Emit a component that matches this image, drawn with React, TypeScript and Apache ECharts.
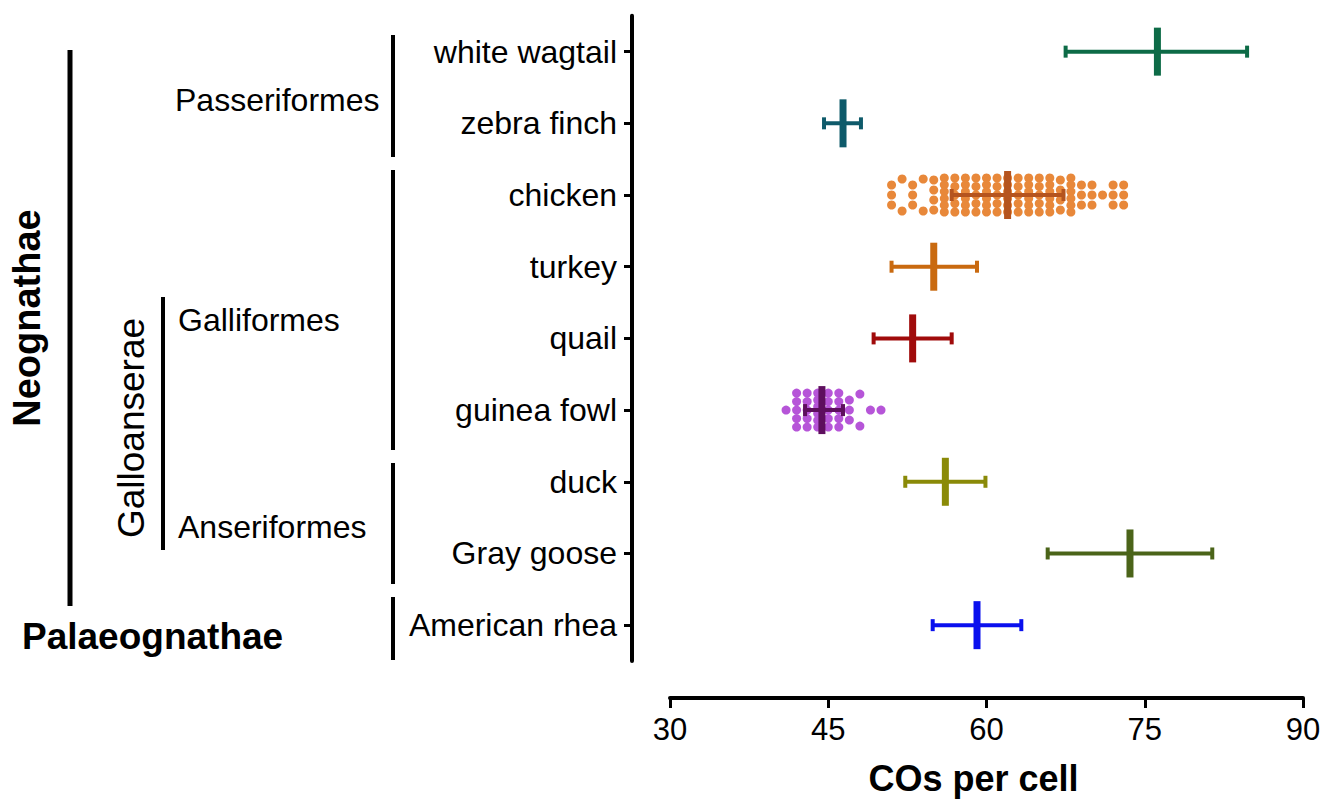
import React, { useEffect, useRef } from "react";
import * as echarts from "echarts";

const categories = [
  "white wagtail",
  "zebra finch",
  "chicken",
  "turkey",
  "quail",
  "guinea fowl",
  "duck",
  "Gray goose",
  "American rhea",
];
const meanValues = [76.2, 46.4, 62.0, 55.0, 53.0, 44.4, 56.1, 73.6, 59.1];
const lowerValues = [67.5, 44.6, 56.7, 51.0, 49.3, 42.8, 52.3, 65.8, 54.9];
const upperValues = [84.7, 48.1, 67.3, 59.1, 56.7, 46.4, 59.9, 81.4, 63.3];
const barColors = [
  "#0d6b47",
  "#0e5a6a",
  "#b5541e",
  "#c96a10",
  "#a00b0b",
  "#5e0f5e",
  "#8a8a08",
  "#4b6419",
  "#0a10ee",
];

const chickenCOs = [
  51, 51, 51, 52, 52, 53, 53, 53, 54, 54, 55, 55, 55, 55, 56, 56, 56, 56, 56, 56,
  57, 57, 57, 57, 57, 58, 58, 58, 58, 58, 58, 59, 59, 59, 59, 59, 60, 60, 60, 60,
  60, 60, 61, 61, 61, 61, 61, 62, 62, 62, 62, 62, 62, 63, 63, 63, 63, 63, 64, 64,
  64, 64, 64, 64, 65, 65, 65, 65, 65, 66, 66, 66, 66, 66, 66, 67, 67, 67, 67, 68,
  68, 68, 68, 68, 68, 69, 69, 69, 70, 70, 70, 71, 72, 72, 72, 73, 73, 73,
];
const guineaFowlCOs = [
  41, 42, 42, 42, 42, 42, 43, 43, 43, 43, 43, 44, 44, 44, 44, 44, 44, 45, 45, 45,
  45, 45, 46, 46, 46, 46, 46, 47, 47, 47, 48, 48, 49, 50,
];

const FONT = "'Liberation Sans', Arial, Helvetica, sans-serif";

function swarm(values: number[], catIndex: number) {
  const counts = new Map<number, number>();
  values.forEach((v) => counts.set(v, (counts.get(v) || 0) + 1));
  const items: any[] = [];
  counts.forEach((n, v) => {
    const step = n === 2 ? 32 : Math.min(10, 34 / Math.max(n - 1, 1));
    for (let k = 0; k < n; k++) {
      const off = (k - (n - 1) / 2) * step;
      items.push({ value: [v, catIndex], symbolOffset: [0, off] });
    }
  });
  return items;
}

function vline(x: number, y1: number, y2: number, w = 4) {
  return {
    type: "line",
    shape: { x1: x, y1, x2: x, y2 },
    style: { stroke: "#000", lineWidth: w },
  };
}

function label(text: string, x: number, y: number, size: number, bold = false, rot = 0, align = "left") {
  return {
    type: "text",
    x,
    y,
    rotation: rot,
    style: {
      text,
      fill: "#000",
      font: `${bold ? "bold " : ""}${size}px ${FONT}`,
      align,
      verticalAlign: "middle",
    },
  };
}

export default function App() {
  const ref = useRef<HTMLDivElement>(null);
  useEffect(() => {
    const chart = echarts.init(ref.current!, null, { renderer: "svg" });
    const errData = categories.map((_, i) => [meanValues[i], lowerValues[i], upperValues[i], i]);
    const option: any = {
      animation: false,
      backgroundColor: "#fff",
      grid: { left: 670, right: 34, top: 15.8, height: 651.4 },
      xAxis: {
        type: "value",
        min: 30,
        max: 90,
        interval: 15,
        offset: 37,
        axisLine: { show: true, onZero: false, lineStyle: { color: "#000", width: 4 } },
        axisTick: { show: true, length: 10, lineStyle: { color: "#000", width: 3 } },
        splitLine: { show: false },
        axisLabel: { fontSize: 31, color: "#000", margin: 16, fontFamily: FONT },
        name: "COs per cell",
        nameLocation: "middle",
        nameGap: 62,
        nameTextStyle: {
          fontSize: 36,
          fontWeight: "bold",
          color: "#000",
          fontFamily: FONT,
          padding: [0, 26, 0, 0],
        },
      },
      yAxis: {
        type: "category",
        data: categories,
        inverse: true,
        offset: 38,
        axisLine: { show: true, lineStyle: { color: "#000", width: 4 } },
        axisTick: { show: true, length: 8, alignWithLabel: true, lineStyle: { color: "#000", width: 3 } },
        axisLabel: { fontSize: 32, color: "#000", margin: 15, fontFamily: FONT },
        splitLine: { show: false },
      },
      graphic: [
        vline(70, 50, 606, 5),
        vline(163, 297, 550, 4),
        vline(393, 35, 157, 4),
        vline(393, 170, 450, 4),
        vline(393, 463, 584, 4),
        vline(393, 597, 660, 4),
        label("Neognathae", 27, 318, 38, true, Math.PI / 2, "center"),
        label("Palaeognathae", 22, 636, 37, true),
        label("Passeriformes", 175, 100, 32),
        label("Galliformes", 178, 320, 32),
        label("Anseriformes", 178, 527, 32),
        label("Galloanserae", 131, 428, 37, false, Math.PI / 2, "center"),
      ],
      series: [
        {
          type: "scatter",
          data: swarm(chickenCOs, 2),
          symbol: "circle",
          symbolSize: 9,
          itemStyle: { color: "#e8883a", opacity: 1 },
          z: 2,
        },
        {
          type: "scatter",
          data: swarm(guineaFowlCOs, 5),
          symbol: "circle",
          symbolSize: 9,
          itemStyle: { color: "#b655d8", opacity: 1 },
          z: 2,
        },
        {
          type: "custom",
          data: errData,
          encode: { x: [0, 1, 2], y: 3 },
          z: 5,
          renderItem: (params: any, api: any) => {
            const c = api.value(3);
            const m = api.coord([api.value(0), c]);
            const lo = api.coord([api.value(1), c]);
            const hi = api.coord([api.value(2), c]);
            const color = barColors[params.dataIndex];
            return {
              type: "group",
              children: [
                { type: "line", shape: { x1: lo[0], y1: lo[1], x2: hi[0], y2: hi[1] }, style: { stroke: color, lineWidth: 4 } },
                { type: "line", shape: { x1: lo[0], y1: lo[1] - 6, x2: lo[0], y2: lo[1] + 6 }, style: { stroke: color, lineWidth: 4 } },
                { type: "line", shape: { x1: hi[0], y1: hi[1] - 6, x2: hi[0], y2: hi[1] + 6 }, style: { stroke: color, lineWidth: 4 } },
                { type: "rect", shape: { x: m[0] - 3.5, y: m[1] - 24, width: 7, height: 48 }, style: { fill: color } },
              ],
            };
          },
        },
      ],
    };
    chart.setOption(option);
    return () => chart.dispose();
  }, []);
  return (
    <div
      ref={ref}
      style={{ position: "fixed", left: 0, top: 0, width: 1337, height: 801, background: "#fff" }}
    />
  );
}
